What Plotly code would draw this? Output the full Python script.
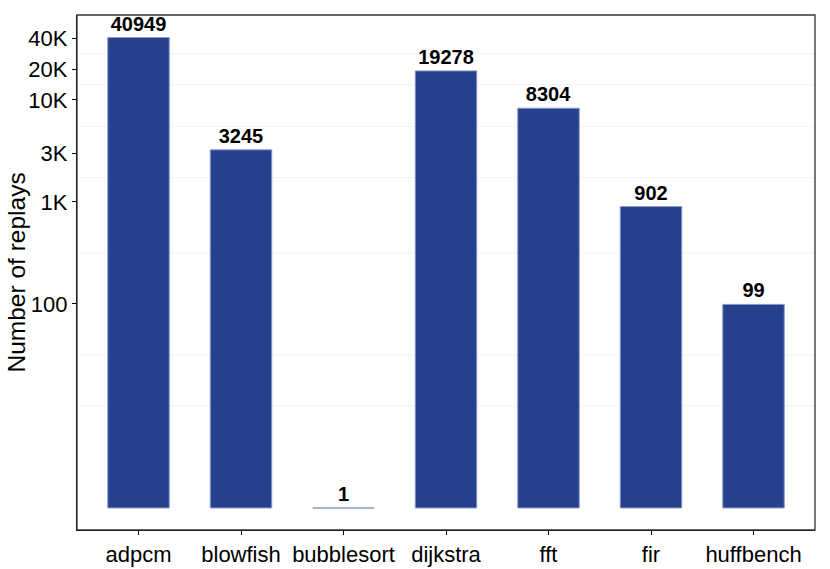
import numpy as np
import plotly.graph_objects as go

categories = ["adpcm", "blowfish", "bubblesort", "dijkstra", "fft", "fir", "huffbench"]
replays = [40949, 3245, 1, 19278, 8304, 902, 99]
tick_values = [100, 1000, 3000, 10000, 20000, 40000]
tick_labels = ["100", "1K", "3K", "10K", "20K", "40K"]

BASE = 1
bar_color = "#26408B"
edge_color = "#8a9ad0"
FONT = "Liberation Sans, Arial, sans-serif"

fig = go.Figure()
fig.add_trace(go.Bar(
    x=categories,
    y=[v - BASE for v in replays],
    base=BASE,
    width=0.6,
    marker=dict(color=bar_color, line=dict(color=edge_color, width=1)),
    text=[str(v) for v in replays],
    textposition="outside",
    cliponaxis=False,
    textfont=dict(family=FONT, size=20, color="black", weight="bold"),
    hoverinfo="x+text",
))

# faint minor gridlines (midpoints between log ticks, plus lower ones)
logt = np.log10(tick_values)
minor = list((logt[:-1] + logt[1:]) / 2) + [1.0, 1.5]
for m in minor:
    fig.add_shape(type="line", xref="paper", x0=0, x1=1, yref="y", y0=10 ** m, y1=10 ** m,
                  line=dict(color="#f3f3f3", width=1), layer="below")

fig.add_shape(type="rect", xref="paper", yref="paper", x0=0, x1=1, y0=0, y1=1,
              line=dict(color="#333333", width=1.3), fillcolor="rgba(0,0,0,0)")

W, H = 830, 569
L, R, T, B = 77, 15, 15, 39
pw = W - L - R
fig.add_annotation(
    text="Number of replays", textangle=-90, xref="paper", yref="paper",
    x=(16 - L) / pw, y=0.5, xanchor="center", yanchor="middle", showarrow=False,
    borderpad=0,
    font=dict(family=FONT, size=24.5, color="black"),
)

fig.update_layout(
    width=W, height=H,
    margin=dict(l=L, r=R, t=T, b=B, autoexpand=False),
    paper_bgcolor="white", plot_bgcolor="white",
    font=dict(family=FONT, color="black"),
    showlegend=False,
    bargap=0.4,
)
fig.update_xaxes(
    range=[-0.6, 6.6], showgrid=False, ticks="outside", ticklen=4, tickcolor="black",
    tickfont=dict(size=22, color="black"), showline=True, linecolor="black", linewidth=1.3,
    zeroline=False, automargin=False,
)
fig.update_yaxes(
    type="log", range=[-0.216, 4.833], tickvals=tick_values, ticktext=tick_labels,
    ticks="outside", ticklen=4, tickcolor="black", tickfont=dict(size=22, color="black"),
    showgrid=False, showline=True, linecolor="black", linewidth=1.3, zeroline=False,
    automargin=False,
)

# remove the default page margin so the figure sits at the window's top-left corner
fig.write_html("out.html", config={"displayModeBar": False},
               post_script="document.body.style.margin='0';")
